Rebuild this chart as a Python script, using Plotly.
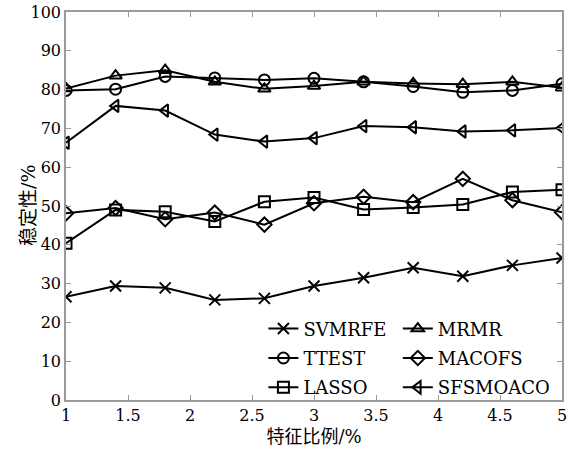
import plotly.graph_objects as go

x_ratio = [1.0, 1.4, 1.8, 2.2, 2.6, 3.0, 3.4, 3.8, 4.2, 4.6, 5.0]

svmrfe = [26.6, 29.4, 28.9, 25.8, 26.2, 29.4, 31.5, 34.1, 31.9, 34.7, 36.6]
mrmr = [80.3, 83.6, 85.0, 82.0, 80.2, 80.9, 82.0, 81.6, 81.4, 82.0, 80.5]
ttest = [79.8, 80.1, 83.4, 83.0, 82.5, 82.9, 82.0, 80.8, 79.3, 79.8, 81.5]
macofs = [48.1, 49.5, 46.6, 48.3, 45.2, 50.7, 52.4, 51.0, 57.0, 51.5, 48.4]
lasso = [40.4, 49.0, 48.5, 46.0, 51.1, 52.2, 49.1, 49.6, 50.4, 53.6, 54.2]
sfsmoaco = [66.3, 75.8, 74.6, 68.4, 66.6, 67.5, 70.6, 70.3, 69.2, 69.5, 70.1]

x_title = "特征比例/%"
y_title = "稳定性/%"

series = [
    ("SVMRFE", svmrfe, "x-thin", "legend"),
    ("TTEST", ttest, "circle-open", "legend"),
    ("LASSO", lasso, "square-open", "legend"),
    ("MRMR", mrmr, "triangle-up-open", "legend2"),
    ("MACOFS", macofs, "diamond-open", "legend2"),
    ("SFSMOACO", sfsmoaco, "triangle-left-open", "legend2"),
]

serif = "DejaVu Serif"
cjk = "DejaVu Serif, Noto Sans CJK SC"

fig = go.Figure()
for name, vals, sym, leg in series:
    fig.add_trace(go.Scatter(
        x=x_ratio, y=vals, name=name, mode="lines+markers",
        line=dict(color="black", width=2),
        marker=dict(symbol=sym, size=11, color="black",
                    line=dict(color="black", width=2)),
        legend=leg, legendgroup=name,
    ))

axis_common = dict(
    showline=True, linecolor="#9a9a9a", linewidth=1.5, mirror="ticks",
    ticks="inside", ticklen=5, tickcolor="#9a9a9a", showgrid=False,
    zeroline=False, automargin=False,
    tickfont=dict(family=serif, size=16, color="black"),
)

fig.update_layout(
    template="none",
    width=574, height=456,
    margin=dict(l=66, r=12, t=12, b=56),
    plot_bgcolor="white", paper_bgcolor="white",
    font=dict(family=serif),
    xaxis=dict(range=[1, 5], dtick=0.5, tick0=1,
               title=dict(text=x_title, font=dict(family=cjk, size=18, color="black"), standoff=6),
               **axis_common),
    yaxis=dict(range=[0, 100], dtick=10, **axis_common),
    legend=dict(x=0.398, y=0.231, xanchor="left", yanchor="top",
                bgcolor="rgba(0,0,0,0)", itemwidth=30, tracegroupgap=3,
                font=dict(family=serif, size=18, color="black")),
    legend2=dict(x=0.669, y=0.231, xanchor="left", yanchor="top",
                 bgcolor="rgba(0,0,0,0)", itemwidth=30, tracegroupgap=3,
                 font=dict(family=serif, size=18, color="black")),
    showlegend=True,
    annotations=[dict(text=y_title, textangle=-90, xref="paper", yref="paper",
                      x=-0.0766, y=0.5, xanchor="center", yanchor="middle",
                      showarrow=False, font=dict(family=cjk, size=19, color="black"))],
)

fig.write_html("out.html", config={"displayModeBar": False},
               post_script="document.body.style.margin='0';")
